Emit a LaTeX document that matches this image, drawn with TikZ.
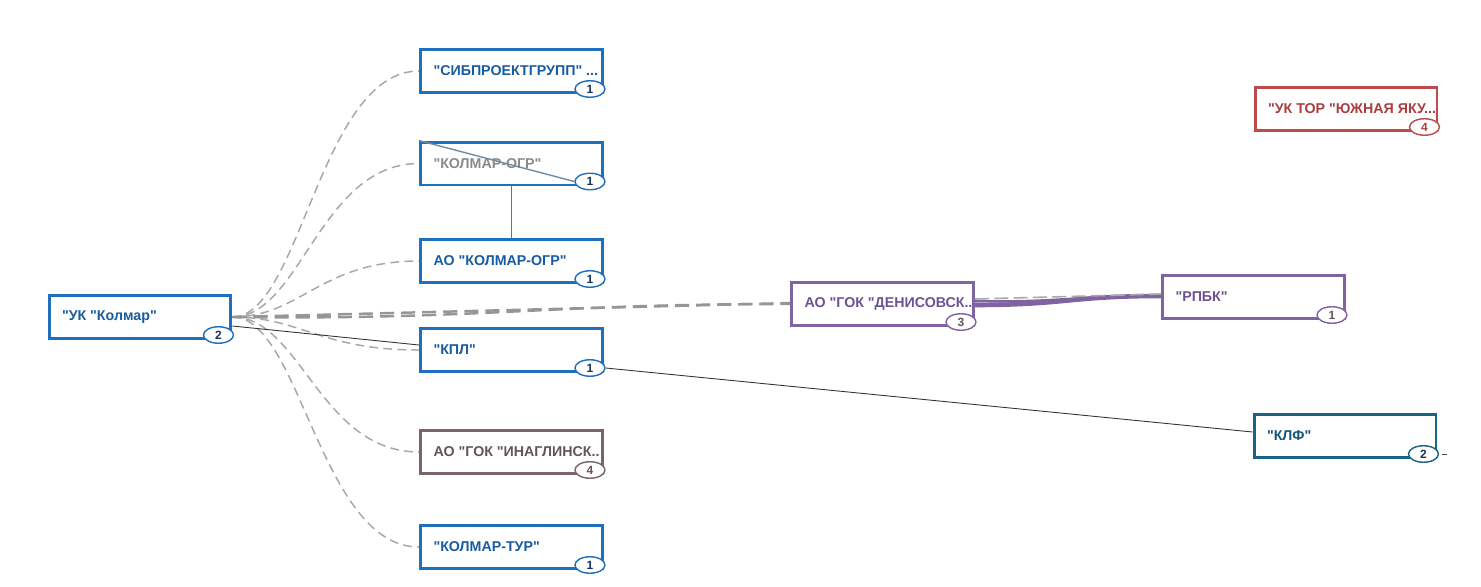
\documentclass[tikz,border=0pt]{standalone}
\usepackage{fontspec}
\setmainfont{Liberation Sans}[Ligatures=TeXOff]
\usetikzlibrary{shapes.geometric}

\definecolor{kblue}{RGB}{30,112,190}
\definecolor{kbluetext}{RGB}{24,92,160}
\definecolor{kgreytext}{RGB}{138,138,138}
\definecolor{kpurple}{RGB}{128,100,162}
\definecolor{kpurpletext}{RGB}{110,82,148}
\definecolor{kmauve}{RGB}{122,100,104}
\definecolor{kmauvetext}{RGB}{100,84,90}
\definecolor{kred}{RGB}{188,76,76}
\definecolor{kredtext}{RGB}{170,62,62}
\definecolor{kteal}{RGB}{24,100,132}
\definecolor{ktealtext}{RGB}{20,86,118}
\definecolor{kbadgetext}{RGB}{20,50,90}
\definecolor{klink}{RGB}{168,168,168}
\definecolor{klinkdark}{RGB}{150,150,150}

\tikzset{
  firm/.style={draw=#1, line width=1.7pt, fill=white, rectangle,
    minimum width=3.64cm, minimum height=0.86cm, inner xsep=0.26cm,
    execute at begin node={\hbox to 3.12cm\bgroup},
    execute at end node={\hss\egroup},
    font=\fontsize{8.1}{9}\selectfont\bfseries},
  badge/.style={draw=#1, line width=0.8pt, fill=white, ellipse,
    minimum width=0.6cm, minimum height=0.33cm, inner sep=0pt,
    font=\fontsize{6.8}{6.8}\selectfont\bfseries},
  owner/.style={draw=klink, line width=0.85pt, dash pattern=on 5pt off 3pt},
  share/.style={draw=klinkdark, line width=1.4pt, dash pattern=on 8pt off 4pt},
}

% badge below right corner of a firm box
\def\badge[#1](#2)(#3:#4){\node[badge=#1, text=#4] (#2-n) at ([shift={(-14,-5)}]#2.south east) {#3};}

\begin{document}
\begin{tikzpicture}[x=0.02cm, y=-0.02cm]
		%%%%% START %%%%%
		\useasboundingbox (0,0) rectangle (1481,586);
		
		% firms
		\node[firm=kblue, text=kbluetext] (ukk) at (140,317) {"УК "Колмар"};
		\node[firm=kblue, text=kbluetext] (sib) at (511.5,71) {"СИБПРОЕКТГРУПП" ...};
		\node[firm=kblue, text=kgreytext] (ogr1) at (511.5,163.5) {"КОЛМАР-ОГР"};
		\node[firm=kblue, text=kbluetext] (ogr2) at (511.5,261) {АО "КОЛМАР-ОГР"};
		\node[firm=kblue, text=kbluetext] (kpl) at (511.5,350) {"КПЛ"};
		\node[firm=kmauve, text=kmauvetext] (ing) at (511.5,452) {АО "ГОК "ИНАГЛИНСК..};
		\node[firm=kblue, text=kbluetext] (tur) at (511.5,547) {"КОЛМАР-ТУР"};
		\node[firm=kpurple, text=kpurpletext] (den) at (882.5,304) {АО "ГОК "ДЕНИСОВСК..};
		\node[firm=kpurple, text=kpurpletext] (rpbk) at (1253.5,297) {"РПБК"};
		\node[firm=kred, text=kredtext] (tor) at (1346,109) {"УК ТОР "ЮЖНАЯ ЯКУ...};
		\node[firm=kteal, text=ktealtext] (klf) at (1345,436) {"КЛФ"};
		
		% ownership links
		\draw[owner] (ukk.east) .. controls +(68,0) and +(-99,0) .. (sib.west);
		\draw[owner] (ukk.east) .. controls +(68,0) and +(-99,0) .. (ogr1.west);
		\draw[owner] (ukk.east) .. controls +(68,0) and +(-99,0) .. (ogr2.west);
		\draw[owner] (ukk.east) .. controls +(68,0) and +(-99,0) .. (kpl.west);
		\draw[owner] (ukk.east) .. controls +(68,0) and +(-99,0) .. (ing.west);
		\draw[owner] (ukk.east) .. controls +(68,0) and +(-99,0) .. (tur.west);
		\draw[share] (ukk.east) -- ([yshift=0.02cm]den.west);
		\draw[share] (ukk.east) .. controls +(250,3) and +(-250,0) .. (den.west);
		
		\draw[line width=0.5pt, color=black!80] ([yshift=-0.18cm]ukk.east) -- ([yshift=0.1cm]kpl.west);
		\draw[line width=0.8pt, color=black!55] (ogr1.south) -- (ogr2.north);
		
		% purple bundle
		\draw[line width=2.6pt, color=kpurple] ([yshift=-0.02cm]den.east) .. controls +(90,0) and +(-90,0) .. ([yshift=0.02cm]rpbk.west);
		\draw[line width=1.4pt, color=kpurple] ([yshift=0.06cm]den.east) .. controls +(80,2) and +(-80,0) .. ([yshift=0.03cm]rpbk.west);
		\draw[line width=0.9pt, color=klink, dash pattern=on 8pt off 3pt] ([yshift=0.1cm]den.east) -- ([yshift=0.06cm]rpbk.west);
		
		% badges
		\badge[kblue](ukk)(2:kbadgetext)
		\badge[kblue](sib)(1:kbadgetext)
		\badge[kblue](ogr1)(1:kbadgetext)
		\badge[kblue](ogr2)(1:kbadgetext)
		\badge[kblue](kpl)(1:kbadgetext)
		\badge[kmauve](ing)(4:kmauvetext)
		\badge[kblue](tur)(1:kbadgetext)
		\badge[kpurple](den)(3:kmauvetext)
		\badge[kpurple](rpbk)(1:kmauvetext)
		\badge[kred](tor)(4:kredtext)
		\badge[kteal](klf)(2:kbadgetext)
		
		\draw[line width=0.8pt, color=black!45!kblue!60] (ogr1.north west) -- (ogr1-n.west);
		\draw[line width=0.5pt, color=black!80] (kpl-n.east) -- ([yshift=0.08cm]klf.west);
		\coordinate (klf-tail) at ([xshift=0.16cm]klf-n.east);
		\draw[line width=0.5pt, color=black!70] ([xshift=0.06cm]klf-n.east) -- (klf-tail);
		
		%%%%% END %%%%%
	\end{tikzpicture}
\end{document}
